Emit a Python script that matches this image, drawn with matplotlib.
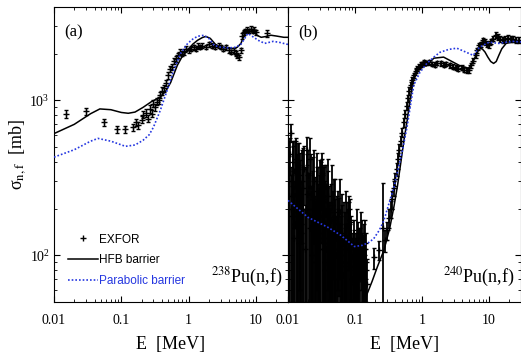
import matplotlib
matplotlib.use("Agg")
import matplotlib.pyplot as plt
from matplotlib.lines import Line2D
from matplotlib.ticker import FixedLocator, FixedFormatter, LogLocator, NullFormatter

plt.rcParams['font.family'] = ['Liberation Serif', 'DejaVu Serif']
plt.rcParams['mathtext.fontset'] = 'stix'

blue = '#2436e0'

### 238Pu(n,f) - panel (a)
a_hfb_e = [0.01, 0.02, 0.035, 0.048, 0.07, 0.1, 0.127, 0.16, 0.21, 0.28, 0.38, 0.46, 0.54, 0.68, 0.82, 0.97,
           1.15, 1.36, 1.6, 1.8, 2.1, 2.5, 3.0, 3.8, 4.6, 5.3, 6.0, 6.5, 7.0, 8.0, 9.3, 10.5, 12, 14, 16.7, 20, 26, 30]
a_hfb_s = [610, 700, 820, 880, 870, 835, 825, 840, 900, 980, 1050, 1150, 1300, 1680, 1950, 2100,
           2300, 2440, 2540, 2585, 2510, 2300, 2200, 2180, 2160, 2200, 2330, 2550, 2750, 2780, 2750, 2620, 2550, 2580, 2630, 2600, 2550, 2550]

a_par_e = [0.01, 0.02, 0.035, 0.045, 0.07, 0.115, 0.16, 0.21, 0.26, 0.30, 0.38, 0.48, 0.6, 0.76, 0.97,
           1.15, 1.36, 1.67, 2.0, 2.4, 3.0, 4.0, 5.0, 6.0, 7.6, 9.3, 10.8, 13.5, 16, 18, 22, 29, 30]
a_par_s = [430, 480, 545, 568, 545, 505, 515, 552, 600, 670, 862, 1160, 1560, 2010, 2330,
           2480, 2590, 2625, 2510, 2260, 2200, 2180, 2200, 2300, 2700, 2550, 2440, 2330, 2370, 2400, 2370, 2300, 2300]

a_exp_e = [0.015, 0.030, 0.056, 0.087, 0.115, 0.15, 0.165, 0.18, 0.2, 0.21, 0.23, 0.25, 0.27, 0.29, 0.3, 0.32,
           0.34, 0.36, 0.38, 0.40, 0.43, 0.46, 0.5, 0.53, 0.56, 0.6, 0.65, 0.7, 0.75, 0.8, 0.85, 0.9, 1.0,
           1.1, 1.2, 1.3, 1.4, 1.5, 1.6, 1.8, 2.0, 2.2, 2.5, 2.8, 3.0, 3.3, 3.6, 4.0, 4.3, 4.7, 5.0, 5.3,
           5.6, 6.0, 6.3, 6.6, 7.0, 7.5, 8.0, 8.5, 9.0, 9.5, 10.0, 14.8]
a_exp_s = [820, 850, 720, 650, 650, 670, 720, 690, 750, 810, 830, 760, 880, 820, 950, 900,
           980, 1000, 1080, 1150, 1200, 1300, 1450, 1600, 1650, 1800, 1850, 1950, 2050, 2000, 2050, 2150, 2100,
           2150, 2200, 2150, 2250, 2200, 2250, 2200, 2300, 2250, 2200, 2250, 2200, 2150, 2200, 2100, 2050, 2100, 2000, 1950,
           1900, 2100, 2600, 2750, 2800, 2850, 2800, 2900, 2800, 2850, 2750, 2700]
a_exp_d = [50, 40, 40, 35, 35, 35, 40, 35, 40, 45, 50, 40, 50, 40, 50, 50,
           50, 50, 50, 60, 60, 60, 70, 70, 70, 80, 80, 80, 80, 80, 80, 80, 80,
           80, 80, 70, 80, 70, 80, 70, 80, 80, 70, 80, 70, 70, 80, 70, 70, 80, 70, 70,
           70, 80, 100, 100, 100, 100, 100, 100, 100, 100, 100, 150]

### 240Pu(n,f) - panel (b)
b_hfb_e = [0.13, 0.153, 0.18, 0.215, 0.27, 0.33, 0.38, 0.43, 0.48, 0.54, 0.6, 0.66, 0.74, 0.86, 1.0, 1.18,
           1.5, 2.1, 2.6, 3.6, 4.9, 5.5, 6.1, 6.7, 7.2, 7.9, 8.7, 9.6, 10.6, 11.7, 12.8, 14, 15.5, 18, 23, 30]
b_hfb_s = [45, 57, 68, 84, 108, 150, 205, 280, 390, 560, 740, 1000, 1330, 1560, 1640, 1680,
           1870, 1900, 1810, 1680, 1610, 1700, 1870, 2050, 2150, 2150, 2050, 1900, 1780, 1730, 1780, 1950, 2150, 2330, 2380, 2370]

b_par_e = [0.01, 0.0198, 0.039, 0.061, 0.098, 0.128, 0.16, 0.19, 0.23, 0.27, 0.32, 0.38, 0.44, 0.5, 0.6, 0.75, 0.93,
           1.18, 1.5, 1.85, 2.5, 3.3, 4.6, 5.8, 7.2, 10, 14, 18, 23, 30]
b_par_s = [226, 176, 152, 135, 114, 116, 121, 128, 145, 168, 215, 275, 360, 455, 680, 1250, 1515,
           1730, 1900, 2040, 2130, 2170, 2040, 1950, 2200, 2370, 2330, 2370, 2400, 2380]

b_exp_e = [0.0105, 0.011, 0.0115, 0.012, 0.0125, 0.013, 0.0135, 0.014, 0.0145, 0.015, 0.0155, 0.016, 0.017,
           0.018, 0.019, 0.02, 0.021, 0.022, 0.023, 0.024, 0.025, 0.026, 0.027, 0.028, 0.029, 0.03, 0.031,
           0.032, 0.033, 0.034, 0.035, 0.036, 0.037, 0.038, 0.04, 0.042, 0.044, 0.046, 0.048, 0.05, 0.052,
           0.055, 0.058, 0.06, 0.063, 0.066, 0.07, 0.073, 0.076, 0.08, 0.083, 0.087, 0.09, 0.095, 0.1, 0.105,
           0.11, 0.115, 0.12, 0.125, 0.13, 0.135, 0.14, 0.145, 0.15,
           0.0102, 0.0108, 0.0112, 0.0118, 0.0122, 0.0128, 0.0132, 0.0138, 0.0142, 0.0148, 0.0152, 0.0158,
           0.0165, 0.0175, 0.0185, 0.0195, 0.0205, 0.0215, 0.0225, 0.0235, 0.0245, 0.0255, 0.0265, 0.0275,
           0.0285, 0.0295, 0.0305, 0.0315, 0.0325, 0.0335, 0.0345, 0.0355, 0.0365, 0.039, 0.041, 0.043,
           0.045, 0.047, 0.049, 0.051, 0.0535, 0.0565, 0.059, 0.0615, 0.0645, 0.068, 0.0715, 0.0745, 0.078,
           0.0815, 0.085, 0.0885, 0.0925, 0.0975, 0.1025, 0.1075, 0.1125, 0.1175, 0.1225, 0.1275, 0.1325,
           0.1375, 0.1425, 0.1475,
           0.19, 0.23, 0.265, 0.28, 0.30, 0.32, 0.34, 0.36, 0.38, 0.40, 0.42, 0.44, 0.46, 0.48, 0.50, 0.53,
           0.56, 0.59, 0.62, 0.65, 0.68, 0.71, 0.75, 0.80, 0.85, 0.9, 0.95, 1.0, 1.07, 1.15, 1.27, 1.4, 1.55,
           1.7, 1.9, 2.1, 2.3, 2.6, 2.9, 3.2, 3.5, 3.9, 4.3, 4.7, 5.0, 5.4, 5.8, 6.3, 6.7, 7.0, 7.5, 8.1,
           8.7, 9.3, 10, 10.8, 11.6, 12.5, 13.5, 14.5, 16, 17.5, 19, 21, 23, 25, 28]
b_exp_s = [240, 620, 180, 400, 130, 350, 210, 380, 120, 260, 160, 300, 200,
           110, 480, 330, 150, 250, 100, 200, 130, 90, 220, 160, 110, 260, 300,
           340, 180, 120, 230, 90, 280, 150, 200, 110, 170, 80, 190, 130, 100,
           160, 145, 90, 120, 75, 110, 85, 130, 160, 170, 100, 70, 85, 65, 80,
           60, 90, 110, 100, 85, 95, 70, 80, 65,
           300, 450, 200, 280, 350, 160, 420, 250, 190, 330, 220, 140,
           270, 360, 200, 250, 180, 420, 150, 230, 300, 170, 120, 260,
           200, 140, 180, 230, 270, 130, 200, 160, 110, 240, 150, 120,
           210, 140, 100, 170, 130, 110, 190, 100, 140, 120, 90, 150, 110,
           130, 120, 95, 80, 100, 75, 120, 95, 70, 130, 110, 80,
           100, 120, 90,
           97, 108, 150, 125, 145, 175, 200, 230, 270, 310, 360, 420, 480, 550, 620, 720,
           820, 920, 1030, 1150, 1250, 1350, 1450, 1550, 1600, 1650, 1700, 1720, 1760, 1740, 1760, 1720, 1700,
           1740, 1730, 1700, 1720, 1680, 1650, 1620, 1600, 1620, 1580, 1560, 1560, 1680, 1800, 1950, 2100, 2260, 2300, 2440,
           2380, 2300, 2260, 2400, 2500, 2630, 2550, 2500, 2440, 2480, 2520, 2500, 2500, 2460, 2440]
b_exp_d = [200, 80, 150, 150, 110, 200, 180, 150, 100, 200, 140, 180, 170,
           90, 100, 150, 130, 200, 80, 150, 110, 70, 150, 130, 90, 150, 100,
           120, 150, 100, 150, 70, 100, 120, 150, 90, 120, 60, 120, 100, 80,
           100, 90, 70, 90, 60, 80, 70, 90, 80, 60, 80, 60, 60, 50, 60,
           50, 60, 40, 40, 45, 40, 40, 30, 30,
           250, 120, 170, 230, 200, 140, 150, 200, 170, 200, 190, 120,
           220, 150, 170, 200, 160, 150, 130, 200, 180, 150, 100, 200,
           170, 120, 150, 180, 150, 110, 170, 140, 90, 180, 130, 100,
           170, 120, 80, 140, 110, 90, 120, 80, 110, 100, 70, 110, 90,
           90, 80, 70, 60, 70, 55, 80, 70, 50, 60, 60, 50,
           60, 50, 50,
           15, 15, 145, 20, 20, 25, 25, 30, 30, 30, 35, 35, 40, 40, 40, 45,
           50, 50, 50, 60, 60, 60, 60, 60, 60, 60, 60, 60, 60, 60, 60, 60, 60,
           60, 60, 60, 60, 60, 60, 60, 60, 60, 60, 60, 60, 70, 70, 80, 80, 90, 90, 100,
           100, 100, 100, 100, 100, 110, 110, 110, 110, 110, 110, 110, 110, 110, 110]


def setup_axis(ax, show_y):
    ax.set_xscale('log')
    ax.set_yscale('log')
    ax.set_xlim(0.01, 30)
    ax.set_ylim(50, 4000)
    ax.xaxis.set_major_locator(FixedLocator([0.01, 0.1, 1, 10]))
    ax.xaxis.set_major_formatter(FixedFormatter(['0.01', '0.1', '1', '10']))
    ax.xaxis.set_minor_locator(LogLocator(base=10, subs=range(2, 10), numticks=20))
    ax.xaxis.set_minor_formatter(NullFormatter())
    ax.yaxis.set_minor_formatter(NullFormatter())
    ax.tick_params(which='both', direction='in', top=True, right=True, labelsize=10)
    ax.tick_params(axis='x', pad=9)
    ax.tick_params(axis='y', pad=3)
    ax.tick_params(which='major', length=4)
    ax.tick_params(which='minor', length=2)
    if not show_y:
        ax.tick_params(axis='y', which='both', labelleft=False)
    ax.set_xlabel('E  [MeV]', fontsize=13, labelpad=6)


fig = plt.figure(figsize=(5.21, 3.58), dpi=100)
ax1 = fig.add_axes([54/521, 1-302/358, 234/521, 295/358])
ax2 = fig.add_axes([288/521, 1-302/358, 233/521, 295/358])

# panel (a)
ax1.errorbar(a_exp_e, a_exp_s, yerr=a_exp_d, fmt='+', color='black', ms=4, mew=1.0,
             elinewidth=0.9, capsize=1.5, zorder=3)
ax1.plot(a_hfb_e, a_hfb_s, color='black', lw=1.1, zorder=4)
ax1.plot(a_par_e, a_par_s, color=blue, lw=1.2, ls=(0, (1, 1.2)), zorder=4)
setup_axis(ax1, True)
ax1.set_ylabel(r'σ$_{\rm n,f}$  [mb]', fontsize=13, labelpad=1)
ax1.text(0.045, 0.9, '(a)', transform=ax1.transAxes, fontsize=12)
ax1.text(0.67, 0.065, r'$^{238}$Pu(n,f)', transform=ax1.transAxes, fontsize=13)

handles = [Line2D([], [], color='black', marker='+', ls='none', ms=4, mew=1.0),
           Line2D([], [], color='black', lw=1.1),
           Line2D([], [], color=blue, lw=1.2, ls=(0, (1, 1.2)))]
leg = ax1.legend(handles, ['EXFOR', 'HFB barrier', 'Parabolic barrier'], loc='lower left',
                 bbox_to_anchor=(0.06, 0.05), frameon=False, borderpad=0, borderaxespad=0,
                 handlelength=2.5, handletextpad=0.15, labelspacing=0.75,
                 prop={'family': 'Liberation Sans', 'size': 8.5})
leg.get_texts()[2].set_color(blue)

# panel (b)
b_low = [min(d, s - 1) for s, d in zip(b_exp_s, b_exp_d)]
ax2.errorbar(b_exp_e, b_exp_s, yerr=[b_low, b_exp_d], fmt='+', color='black', ms=4, mew=1.0,
             elinewidth=1.3, capsize=1.5, zorder=3)
ax2.plot(b_hfb_e, b_hfb_s, color='black', lw=1.1, zorder=4)
ax2.plot(b_par_e, b_par_s, color=blue, lw=1.2, ls=(0, (1, 1.2)), zorder=4)
setup_axis(ax2, False)
ax2.text(0.045, 0.9, '(b)', transform=ax2.transAxes, fontsize=12)
ax2.text(0.665, 0.065, r'$^{240}$Pu(n,f)', transform=ax2.transAxes, fontsize=13)

fig.savefig('out.png', dpi=100)
